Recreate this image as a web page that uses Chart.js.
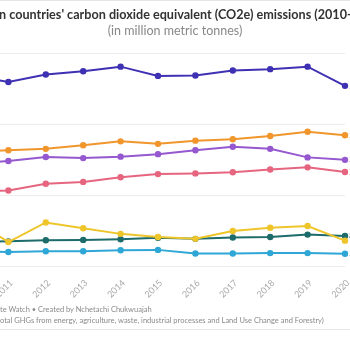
<!DOCTYPE html>
<html>
<head>
<meta charset="utf-8">
<script src="https://cdn.jsdelivr.net/npm/chart.js@4"></script>
<style>
  html, body { margin: 0; padding: 0; background: #fff; }
  body { width: 350px; height: 350px; overflow: hidden; position: relative; border-top: 1px solid #e6e6e6; box-sizing: border-box; }
  #wrap { position: absolute; left: -64px; top: 0; width: 478px; height: 306px; }
  .foot { position: absolute; left: -45px; font: 7.5px Lato, sans-serif; color: #8a8a8a; white-space: nowrap; }
  #rule { position: absolute; left: 0; width: 350px; top: 328px; border-top: 1px solid #e8e8e8; }
</style>
</head>
<body>
<div id="wrap"><canvas id="mychart"></canvas></div>
<div class="foot" id="f1" style="top:304px">Source: Climate Watch • Created by Nchetachi Chukwuajah</div>
<div class="foot" id="f2" style="top:315px">Emissions (total GHGs from energy, agriculture, waste, industrial processes and Land Use Change and Forestry)</div>
<div id="rule"></div>
<script>
const years = ['2010', '2011', '2012', '2013', '2014', '2015', '2016', '2017', '2018', '2019', '2020'];

const southAfrica = [537, 519, 540, 549, 562, 536, 537, 551, 555, 562, 508];
const egypt       = [323, 327, 331, 341, 352, 345, 354, 358, 367, 379, 369];
const nigeria     = [289, 297, 308, 305, 309, 316, 327, 337, 331, 307, 300];
const algeria     = [211, 214, 233, 238, 251, 260, 262, 265, 273, 279, 266];
const drCongo     = [136, 69, 124, 108, 92, 83, 78, 100, 109, 114, 73];
const morocco     = [69, 71, 74, 75, 77, 81, 78, 82, 83, 90, 86];
const kenya       = [43, 41, 43, 43, 46, 47, 37, 37, 38, 38, 36];

const yTicks = [0, 200, 400, 600];

const titleText = "African countries' carbon dioxide equivalent (CO2e) emissions (2010-2020)";

function series(label, values, color) {
    return {
        label: label,
        data: values,
        borderColor: color,
        backgroundColor: color,
        borderWidth: 2,
        pointRadius: 2.2,
        pointHoverRadius: 3,
        tension: 0
    };
}

const data = {
    labels: years,
    datasets: [
        series('South Africa', southAfrica, '#3f31b3'),
        series('Egypt', egypt, '#f0962c'),
        series('Nigeria', nigeria, '#9558cf'),
        series('Algeria', algeria, '#e6657f'),
        series('DR Congo', drCongo, '#eec52a'),
        series('Morocco', morocco, '#1d6b6b'),
        series('Kenya', kenya, '#2fa7d6')
    ]
};

const m = document.createElement('canvas').getContext('2d');

// the visible part of the title runs right across the 350px window
m.font = 'bold 10px Lato, sans-serif';
const titleSize = 10 * 348 / m.measureText("n countries' carbon dioxide equivalent (CO2e) emissions (2010").width;

// footer lines are clipped on the left like the chart, line them up by the cut text
m.font = '7.5px Lato, sans-serif';
document.getElementById('f1').style.left = -m.measureText('Source: Clima').width + 'px';
document.getElementById('f2').style.left = -m.measureText('Emissions (t').width + 'px';

// names at the end of each line
const endLabels = {
    id: 'endLabels',
    afterDatasetsDraw(chart) {
        const c = chart.ctx;
        c.save();
        c.font = '10px Lato, sans-serif';
        c.textBaseline = 'middle';
        chart.data.datasets.forEach((ds, i) => {
            const pts = chart.getDatasetMeta(i).data;
            const p = pts[pts.length - 1];
            c.fillStyle = ds.borderColor;
            c.fillText(ds.data[ds.data.length - 1] + ' ' + ds.label, p.x + 4, p.y);
        });
        c.restore();
    }
};

const ctx = document.getElementById('mychart');

new Chart(ctx, {
    type: 'line',
    data: data,
    options: {
        responsive: true,
        maintainAspectRatio: false,
        animation: false,
        layout: { padding: { left: 0, right: 0, top: 0, bottom: 4 } },
        plugins: {
            legend: { display: false },
            tooltip: { enabled: false },
            title: {
                display: true,
                text: titleText,
                color: '#333',
                font: { family: 'Lato', size: titleSize, weight: 'bold' },
                padding: { top: 6, bottom: 0 }
            },
            subtitle: {
                display: true,
                text: '(in million metric tonnes)',
                color: '#888',
                font: { family: 'Lato', size: 12.5 },
                padding: { top: 1, bottom: 15 }
            }
        },
        scales: {
            x: {
                grid: { display: false },
                border: { display: false },
                ticks: {
                    autoSkip: false,
                    minRotation: 45,
                    maxRotation: 45,
                    labelOffset: 3,
                    color: '#aaa',
                    font: { family: 'Lato', size: 9 }
                }
            },
            y: {
                min: 0,
                max: 600,
                afterFit(scale) { scale.width = 35; },
                afterBuildTicks(scale) { scale.ticks = yTicks.map(v => ({ value: v })); },
                grid: { color: '#ececec', drawTicks: false },
                border: { display: false },
                ticks: { color: '#aaa', font: { family: 'Lato', size: 10 }, padding: 6 }
            },
            // empty right-hand space kept for the end labels
            gutter: {
                type: 'linear',
                position: 'right',
                display: true,
                afterFit(scale) { scale.width = 69; },
                grid: { display: false },
                border: { display: false },
                ticks: { display: false }
            }
        }
    },
    plugins: [endLabels]
});
</script>
</body>
</html>
